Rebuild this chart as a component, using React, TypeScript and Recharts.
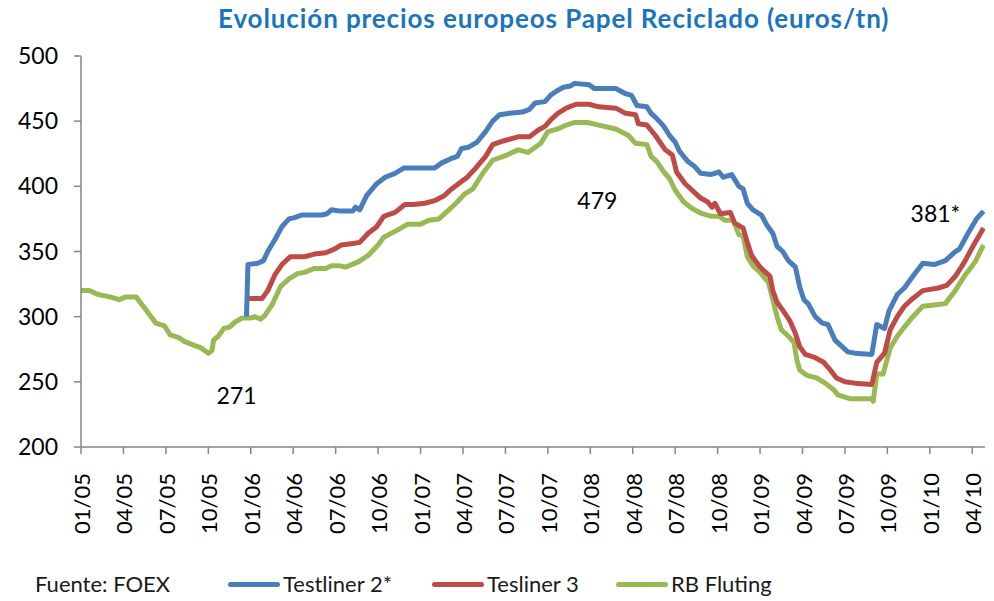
import React from 'react';
import {LineChart, Line, XAxis, YAxis, ReferenceDot} from 'recharts';

// x = months since 01/2005, y = euros/tn
const tickLabels = ['01/05', '04/05', '07/05', '10/05', '01/06', '04/06', '07/06', '10/06', '01/07', '04/07', '07/07',
    '10/07', '01/08', '04/08', '07/08', '10/08', '01/09', '04/09', '07/09', '10/09', '01/10', '04/10'];
const yTicks = [200, 250, 300, 350, 400, 450, 500];

const testliner2: [number, number][] = [
    [11.7, 300], [11.8, 340], [12.5, 341], [12.9, 343], [13.2, 350], [13.7, 359], [14.2, 369], [14.7, 375], [15.1, 376],
    [15.6, 378], [17.0, 378], [17.4, 379], [17.7, 382], [18.3, 381], [19.2, 381], [19.4, 384], [19.7, 382], [20.2, 393],
    [20.9, 402], [21.5, 407], [22.2, 410], [22.8, 414], [25.0, 414], [25.5, 418], [26.1, 421], [26.6, 423], [26.9, 429],
    [27.4, 430], [28.0, 434], [28.6, 442], [29.1, 450], [29.6, 455], [30.3, 456], [31.2, 457], [31.7, 459], [32.1, 464],
    [32.8, 465], [33.2, 470], [33.6, 473], [34.1, 476], [34.6, 477], [34.9, 479], [35.9, 478], [36.3, 475], [37.8, 475],
    [38.5, 471], [38.9, 470], [39.3, 462], [40.0, 461], [40.3, 456], [40.7, 452], [41.2, 446], [41.6, 439], [42.0, 434],
    [42.3, 427], [42.9, 419], [43.4, 415], [43.8, 410], [44.5, 409], [45.1, 411], [45.4, 407], [46.0, 409], [46.5, 400],
    [46.8, 398], [47.1, 387], [47.5, 382], [48.1, 378], [48.5, 370], [48.9, 364], [49.2, 354], [49.6, 350], [50.0, 343],
    [50.5, 338], [50.8, 323], [51.1, 313], [51.4, 310], [51.9, 300], [52.4, 295], [52.8, 294], [53.3, 282], [53.8, 277],
    [54.2, 273], [54.7, 272], [55.9, 271], [56.25, 294], [56.8, 291], [57.1, 304], [57.7, 317], [58.2, 322], [58.8, 331],
    [59.5, 341], [60.3, 340], [61.1, 343], [61.7, 349], [62.1, 352], [62.7, 364], [63.3, 375], [63.8, 381],
];

const tesliner3: [number, number][] = [
    [11.8, 314], [12.8, 314], [13.2, 320], [13.7, 332], [14.2, 340], [14.8, 346], [15.8, 346], [16.5, 348], [17.3, 349],
    [17.95, 352], [18.4, 355], [19.1, 356], [19.7, 357], [20.3, 364], [20.9, 369], [21.4, 377], [22.2, 380], [22.9, 386],
    [23.5, 386], [24.3, 387], [25.0, 389], [25.7, 393], [26.2, 398], [26.8, 403], [27.3, 407], [27.9, 414], [28.6, 423],
    [29.1, 432], [29.9, 435], [30.9, 438], [31.7, 438], [32.3, 443], [32.8, 446], [33.2, 451], [33.7, 456], [34.3, 460],
    [35.0, 463], [35.9, 463], [36.6, 461], [37.8, 460], [38.5, 456], [39.2, 455], [39.4, 448], [40.0, 447], [40.6, 439],
    [41.3, 428], [41.8, 424], [42.1, 411], [42.7, 402], [43.3, 396], [43.8, 391], [44.3, 388], [44.6, 384], [44.8, 387],
    [45.2, 379], [45.9, 380], [46.2, 372], [46.8, 368], [47.1, 357], [47.4, 347], [48.0, 338], [48.7, 331], [48.9, 320],
    [49.2, 311], [49.6, 305], [50.1, 297], [50.5, 287], [50.8, 277], [51.2, 271], [51.8, 269], [52.5, 265], [52.9, 260],
    [53.4, 253], [54.0, 250], [54.7, 249], [55.9, 248], [56.25, 265], [56.8, 272], [57.2, 290], [57.7, 300], [58.2, 308],
    [58.8, 314], [59.5, 320], [60.6, 322], [61.2, 324], [61.8, 331], [62.4, 341], [63.1, 355], [63.8, 368],
];

const rbFluting: [number, number][] = [
    [0, 320], [0.6, 320], [1.2, 317], [2.1, 315], [2.7, 313], [3.1, 315], [3.9, 315], [4.4, 308], [5.3, 295], [5.9, 293],
    [6.3, 286], [6.9, 284], [7.3, 281], [8.0, 278], [8.5, 276], [9.0, 272], [9.26, 274], [9.37, 282], [9.7, 285],
    [10.1, 291], [10.5, 292], [10.9, 296], [11.4, 299], [12.0, 299], [12.3, 300], [12.7, 298], [13.0, 301], [13.5, 309],
    [14.1, 323], [14.7, 329], [15.3, 333], [15.8, 334], [16.5, 337], [17.3, 337], [17.7, 339], [18.3, 339], [18.7, 338],
    [19.6, 342], [20.3, 347], [21.0, 355], [21.4, 361], [22.3, 366], [23.1, 371], [24.0, 371], [24.6, 374], [25.3, 375],
    [26.0, 382], [26.6, 388], [27.1, 394], [27.7, 398], [28.4, 410], [29.1, 420], [30.1, 424], [30.9, 428], [31.6, 426],
    [32.5, 433], [33.0, 442], [33.7, 444], [34.3, 447], [34.9, 449], [35.8, 449], [36.6, 447], [37.8, 444], [38.7, 439],
    [39.2, 433], [40.0, 432], [40.3, 423], [40.7, 419], [41.2, 411], [41.6, 406], [42.0, 397], [42.6, 388], [43.2, 383],
    [43.9, 379], [44.6, 377], [45.1, 377], [45.5, 374], [46.1, 374], [46.5, 363], [46.8, 362], [47.1, 346], [47.5, 339],
    [48.0, 334], [48.6, 326], [48.9, 313], [49.2, 300], [49.5, 290], [50.0, 285], [50.4, 280], [50.6, 267], [50.8, 259],
    [51.3, 255], [52.0, 253], [52.6, 249], [53.2, 244], [53.5, 240], [54.4, 237], [55.9, 237], [56.0, 235], [56.25, 256],
    [56.7, 256], [57.2, 276], [57.7, 285], [58.2, 292], [58.8, 300], [59.5, 308], [60.3, 309], [61.1, 310], [61.8, 320],
    [62.5, 332], [63.2, 342], [63.8, 355],
];

const FONT = 'Lato, "Open Sans", sans-serif';
const BLUE = '#4A7EBB';
const RED = '#BE4B48';
const GREEN = '#98B954';
const AXIS = '#868686';

const toPoints = (rows: [number, number][]) => rows.map(([m, v]) => ({m, v}));

function XTick({x, y, payload}: any) {
    const label = tickLabels[Math.round(payload.value / 3)];
    return (
        <text x={x} y={y} transform={`rotate(-90, ${x}, ${y})`} textAnchor="end" dx={-19} dy={9}
              fontSize={22} fill="#000" fontFamily={FONT}>
            {label}
        </text>
    );
}

function LegendLine({left, color}: { left: number, color: string }) {
    return <div style={{position: 'absolute', left, top: 582, width: 52, height: 5, borderRadius: 3, background: color}}/>;
}

export default function App() {
    const note = {fontSize: 23, fill: '#000', fontFamily: FONT};
    const legendText = {position: 'absolute' as const, top: 570, fontSize: 22, color: '#1a1a1a', whiteSpace: 'nowrap' as const};
    return (
        <div style={{position: 'absolute', left: 0, top: 0, width: 994, height: 601, background: '#fff', fontFamily: FONT}}>
            <div style={{position: 'absolute', left: 218, top: 2, fontSize: 26, letterSpacing: 0.9, fontWeight: 700,
                color: '#1B75BC', whiteSpace: 'nowrap'}}>
                Evolución precios europeos Papel Reciclado (euros/tn)
            </div>
            <LineChart width={994} height={601} margin={{top: 56, right: 9, bottom: 64, left: 0}}>
                <XAxis type="number" dataKey="m" domain={[0, 63.9]} ticks={tickLabels.map((_, i) => i * 3)}
                       tick={<XTick/>} tickSize={7} tickMargin={0} height={90} interval={0}
                       stroke={AXIS} strokeWidth={1.5} allowDataOverflow/>
                <YAxis type="number" domain={[200, 500]} ticks={yTicks} width={81} tickSize={7} tickMargin={16}
                       stroke={AXIS} strokeWidth={1.5} interval={0}
                       tick={{fontSize: 23, fill: '#000', fontFamily: FONT}}/>
                <Line data={toPoints(rbFluting)} dataKey="v" stroke={GREEN} strokeWidth={5} dot={false}
                      strokeLinejoin="round" isAnimationActive={false}/>
                <Line data={toPoints(tesliner3)} dataKey="v" stroke={RED} strokeWidth={5} dot={false}
                      strokeLinejoin="round" isAnimationActive={false}/>
                <Line data={toPoints(testliner2)} dataKey="v" stroke={BLUE} strokeWidth={5} dot={false}
                      strokeLinejoin="round" isAnimationActive={false}/>
                <ReferenceDot x={11.0} y={239} r={1} fill="none" stroke="none"
                              label={{value: '271', position: 'center', ...note}}/>
                <ReferenceDot x={36.5} y={389} r={1} fill="none" stroke="none"
                              label={{value: '479', position: 'center', ...note}}/>
                <ReferenceDot x={60.4} y={379} r={1} fill="none" stroke="none"
                              label={{value: '381*', position: 'center', ...note}}/>
            </LineChart>
            <div style={{...legendText, left: 35}}>Fuente: FOEX</div>
            <LegendLine left={228} color={BLUE}/>
            <div style={{...legendText, left: 283}}>Testliner 2*</div>
            <LegendLine left={432} color={RED}/>
            <div style={{...legendText, left: 487}}>Tesliner 3</div>
            <LegendLine left={616} color={GREEN}/>
            <div style={{...legendText, left: 671}}>RB Fluting</div>
        </div>
    );
}
